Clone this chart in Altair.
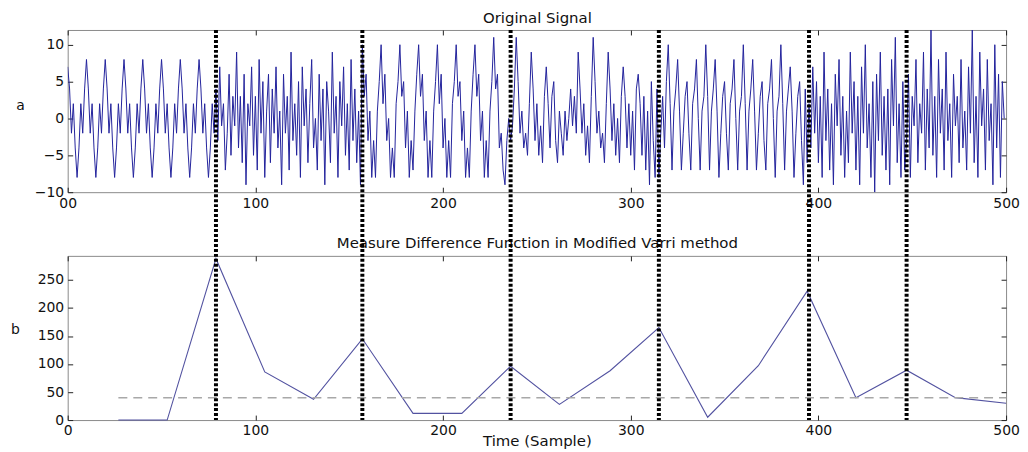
import altair as alt
import pandas as pd

# ---------------- data ----------------
seg1 = [7,4,-2,2,-4,-8,-4,2,-2,4, 8,4,-2,2,-4,-8,-4,2,-2,4, 8,4,-2,2,-4,-8,-4,2,-2,4,
        8,4,-2,2,-4,-8,-4,2,-2,4, 8,4,-2,2,-4,-8,-4,2,-2,4, 8,4,-2,2,-4,-8,-4,2,-2,4,
        8,4,-2,2,-4,-8,-4,2,-2,4, 8,4,-2,2,-4,-8,-4,2,-2]
seg2 = [4,-3,7,-1,2,-7,-2,6,-5,3,-1,
        9,-4,3,-6,6,-9,2,-1,7,-5,3,
        -7,8,-2,5,-8,1,6,-6,4,-2,7,
        -4,1,-9,6,-2,3,-7,9,-3,2,-5,
        5,-8,7,-1,4,-6,2,8,-4,0,-7,
        6,-3,4,-9,5,1,-6,9,-2,3,-8,
        5,-1,7,-5,2,-7,8,-3,4,-6,1,-9]
seg3 = [10,3,6,-3,1,-8,-3,-8,1,5,
        10,2,6,-3,0,-8,-4,-8,2,5,
        10,3,5,-4,1,-8,-3,-7,1,6,
        10,3,6,-3,1,-8,-3,-8,1,5,
        10,2,6,-4,0,-8,-3,-8,2,5,
        10,3,5,-3,1,-8,-4,-8,1,6,
        10,3,6,-3,1,-8,-3,-8,1,5,
        11,4,6,-4,-2,-7,-9,-3,0]
seg4 = [-3,-1,4,11,5,-2,1,-4,
        -2,-5,2,9,4,-3,2,-5,
        -1,-6,3,7,2,-4,3,5,
        -3,-6,1,-2,-5,1,-3,0,
        4,-1,3,-2,9,4,-2,2,
        -5,-1,-6,3,11,5,-2,1,
        -4,-2,-6,2,9,4,-3,2,
        -5,0,-6,3,7,3,-4,2,
        -5,1,-7,4,6,2,-5,3,
        -7,1,-9,5,-3,-8,4]
seg5 = [-8,-2,3,-4,5,
        10,2,-7,1,4,8,1,-7,-2,3,5,-2,-7,2,4,8,0,-7,1,3,
        10,3,-7,1,4,8,1,-8,-2,3,5,-2,-7,2,4,8,0,-7,1,3,
        10,2,-7,1,4,8,1,-7,-2,3,5,-3,-7,2,4,8,0,-8,1,3,
        10,2,-7,1,4,7,1,-8,-2,3,5,-3,-9,4,-6]
seg6 = [2,-4,7,-2,5,-6,3,-8,
        9,-3,4,-7,2,-9,6,-1,
        8,-5,3,-8,1,-6,9,-2,
        5,-7,3,-9,7,-2,10,-4,
        2,-8,5,-10,6,-3,9,-5,
        3,-7,4,-9,8,-1,11,-6,
        2,-8,5,-7]
seg7 = [-3,6,-8,3,-1,8,-6,2,
        -2,9,-7,4,-4,12,-5,3,
        -8,8,-2,4,-7,9,-3,2,
        -8,6,-1,3,-6,8,-4,1,
        -7,7,-2,12,-6,3,-8,9,
        -1,4,-7,8,-3,2,-9,10,
        -4,6,-8,5,0]
signal = seg1 + seg2 + seg3 + seg4 + seg5 + seg6 + seg7

mdf_t = [27, 53, 79, 105, 131, 157, 184, 210, 236, 262, 289, 315, 341, 368, 394, 420, 447, 473, 500]
mdf_v = [0, 0, 288, 86, 37, 145, 12, 12, 96, 28, 88, 165, 5, 97, 230, 40, 89, 40, 30]
threshold = [40]
thr_start = [27]
thr_end = [500]
boundaries = [79, 157, 236, 315, 395, 447]

x_ticks = [0, 100, 200, 300, 400, 500]
a_ticks = [-10, -5, 0, 5, 10]
b_ticks = [0, 50, 100, 150, 200, 250]

df_sig = pd.DataFrame({"t": list(range(len(signal))), "a": signal})
df_mdf = pd.DataFrame({"t": mdf_t, "b": mdf_v})
df_thr = pd.DataFrame({"t0": thr_start, "t1": thr_end, "b": threshold})
df_bnd = pd.DataFrame({"t": boundaries})

# ---------------- layout / style ----------------
W, H1, H2 = 943, 163, 165
GAP = 64          # pixel gap between the two plot areas
FONT = "DejaVu Sans"
FS = 14
TFS = 15
TXT = "#111111"
TICK = "#222222"

xscale = alt.Scale(domain=[0, 500], nice=False, zero=False)
ascale = alt.Scale(domain=[-10, 12], nice=False, zero=False)
bscale = alt.Scale(domain=[0, 293], nice=False, zero=False)


def inner_axis(orient, values, labels=True, **kw):
    kw.setdefault("titleFontSize", FS)
    return alt.Axis(orient=orient, values=values, labels=labels, domain=False,
                    grid=False, ticks=True, tickSize=5, offset=-5, tickColor=TICK,
                    labelPadding=4, labelFont=FONT, labelFontSize=FS,
                    labelColor=TXT, labelFlush=False, titleFont=FONT,
                    titleFontWeight="normal", titleColor=TXT, **kw)


def top_title_axis(values, text):
    return inner_axis("top", values, labels=False, title=text, titleY=-13,
                      titleBaseline="alphabetic", titleAlign="center",
                      titleFontSize=TFS)


# top panel
top_line = alt.Chart(df_sig).mark_line(color="#23239c", strokeWidth=1, clip=True).encode(
    x=alt.X("t:Q", scale=xscale,
            axis=inner_axis("bottom", x_ticks, title=None,
                            labelExpr="datum.value == 0 ? '00' : datum.label")),
    y=alt.Y("a:Q", scale=ascale,
            axis=inner_axis("left", a_ticks, title="a", titleAngle=0, titleX=-53,
                            titleY=76, titleAlign="center", titleBaseline="middle")),
)
top_frame = alt.Chart(df_sig).mark_line(opacity=0).encode(
    x=alt.X("t:Q", scale=xscale, axis=top_title_axis(x_ticks, "Original Signal")),
    y=alt.Y("a:Q", scale=ascale, axis=inner_axis("right", a_ticks, labels=False, title=None)),
)
top = alt.layer(top_line, top_frame).resolve_axis(x="independent", y="independent").properties(
    width=W, height=H1)

# bottom panel
b_line = alt.Chart(df_mdf).mark_line(color="#5252a0", strokeWidth=1.1).encode(
    x=alt.X("t:Q", scale=xscale,
            axis=inner_axis("bottom", x_ticks, title="Time (Sample)", titleY=31,
                            titleBaseline="alphabetic", titleFontSize=TFS)),
    y=alt.Y("b:Q", scale=bscale,
            axis=inner_axis("left", b_ticks, title="b", titleAngle=0, titleX=-58,
                            titleY=74, titleAlign="center", titleBaseline="middle")),
)
b_frame = alt.Chart(df_mdf).mark_line(opacity=0).encode(
    x=alt.X("t:Q", scale=xscale,
            axis=top_title_axis(x_ticks, "Measure Difference Function in Modified Varri method")),
    y=alt.Y("b:Q", scale=bscale, axis=inner_axis("right", b_ticks, labels=False, title=None)),
)
b_thr = alt.Chart(df_thr).mark_rule(color="#a8a8a8", strokeWidth=1.5, strokeDash=[9, 6]).encode(
    x=alt.X("t0:Q", scale=xscale, axis=None), x2="t1:Q",
    y=alt.Y("b:Q", scale=bscale, axis=None))
b_bnd = alt.Chart(df_bnd).mark_rule(color="black", strokeWidth=4, strokeDash=[3, 2]).encode(
    x=alt.X("t:Q", scale=xscale, axis=None), y=alt.value(-(H1 + GAP)), y2=alt.value(H2))
bottom = alt.layer(b_line, b_frame, b_thr, b_bnd).resolve_axis(
    x="independent", y="independent").properties(width=W, height=H2)

chart = alt.vconcat(top, bottom, spacing=GAP, bounds="flush").properties(
    padding={"left": 2, "top": 0, "right": 0, "bottom": 0},
    background="white",
).configure_view(stroke="#8a8a8a", strokeWidth=1)

chart.save("out.html", embed_options={"renderer": "svg", "actions": False})
